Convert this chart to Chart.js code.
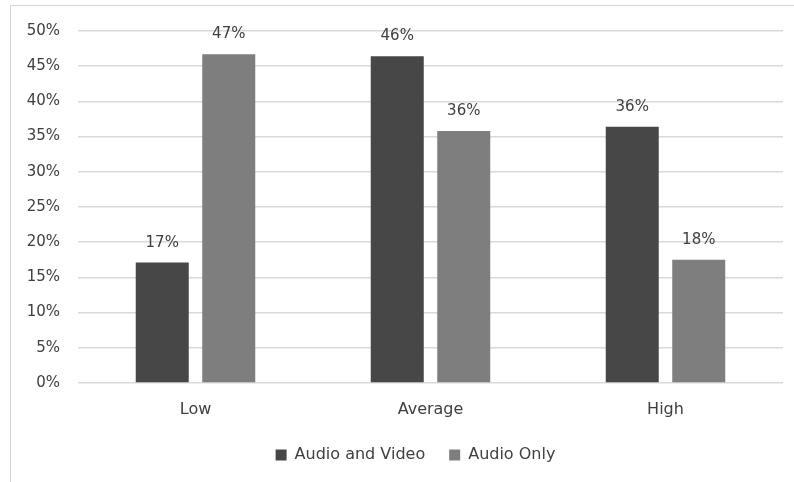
<!DOCTYPE html>
<html><head><meta charset="utf-8">
<script src="https://cdn.jsdelivr.net/npm/chart.js@4/dist/chart.umd.min.js"></script>
<style>
html,body{margin:0;padding:0;background:#fff;overflow:hidden;width:794px;height:482px;}
#frame{position:absolute;left:10px;top:5px;width:900px;height:490px;border:1.5px solid #d4d4d4;box-sizing:border-box;}
#wrap{position:absolute;left:0;top:0;width:794px;height:482px;}
</style></head>
<body>
<div id="frame"></div>
<div id="wrap"><canvas id="c" width="794" height="482"></canvas></div>
<script>
const categories = ["Low", "Average", "High"];
const seriesNames = ["Audio and Video", "Audio Only"];
const audioAndVideo = [17.1, 46.4, 36.4];
const audioOnly = [46.7, 35.8, 17.5];
const yTicks = [0, 5, 10, 15, 20, 25, 30, 35, 40, 45, 50];

const FONT = "'DejaVu Sans', sans-serif";
const TEXT = "#404040";

const valueLabels = {
  id: "valueLabels",
  afterDatasetsDraw(chart) {
    const ctx = chart.ctx;
    ctx.save();
    ctx.font = "15px " + FONT;
    ctx.fillStyle = TEXT;
    ctx.textAlign = "center";
    ctx.textBaseline = "middle";
    chart.data.datasets.forEach((ds, i) => {
      chart.getDatasetMeta(i).data.forEach((bar, j) => {
        ctx.fillText(Math.round(ds.data[j]) + "%", bar.x, bar.y - 20);
      });
    });
    ctx.restore();
  }
};

const chart = new Chart(document.getElementById("c"), {
  type: "bar",
  data: {
    labels: categories,
    datasets: [
      { label: seriesNames[0], data: audioAndVideo, backgroundColor: "#474747",
        categoryPercentage: 0.566, barPercentage: 0.797 },
      { label: seriesNames[1], data: audioOnly, backgroundColor: "#7e7e7e",
        categoryPercentage: 0.566, barPercentage: 0.797 }
    ]
  },
  options: {
    responsive: false,
    animation: false,
    layout: { padding: { left: 0, right: 11, top: 31, bottom: 0 } },
    plugins: {
      legend: {
        position: "bottom",
        labels: { boxWidth: 11, boxHeight: 11, padding: 24, color: TEXT, font: { family: FONT, size: 16 } }
      },
      tooltip: { enabled: false }
    },
    scales: {
      x: {
        afterFit(s) { s.height = 49; },
        grid: { display: false, drawTicks: false },
        border: { display: false },
        ticks: { color: TEXT, font: { family: FONT, size: 16 }, padding: 17 }
      },
      y: {
        min: 0, max: 50,
        afterFit(s) { s.width = 78; },
        afterBuildTicks(s) { s.ticks = yTicks.map(v => ({ value: v })); },
        grid: { color: "#d9d9d9", lineWidth: 1.5, drawTicks: false },
        border: { display: false },
        ticks: { color: TEXT, font: { family: FONT, size: 15 }, padding: 18,
          callback: v => v + "%" }
      }
    }
  },
  plugins: [valueLabels]
});
const origLegendDraw = chart.legend.draw;
chart.legend.draw = function () {
  const ctx = this.ctx;
  ctx.save();
  ctx.translate(24, -9);
  origLegendDraw.apply(this, arguments);
  ctx.restore();
};
chart.draw();
</script>
</body></html>
